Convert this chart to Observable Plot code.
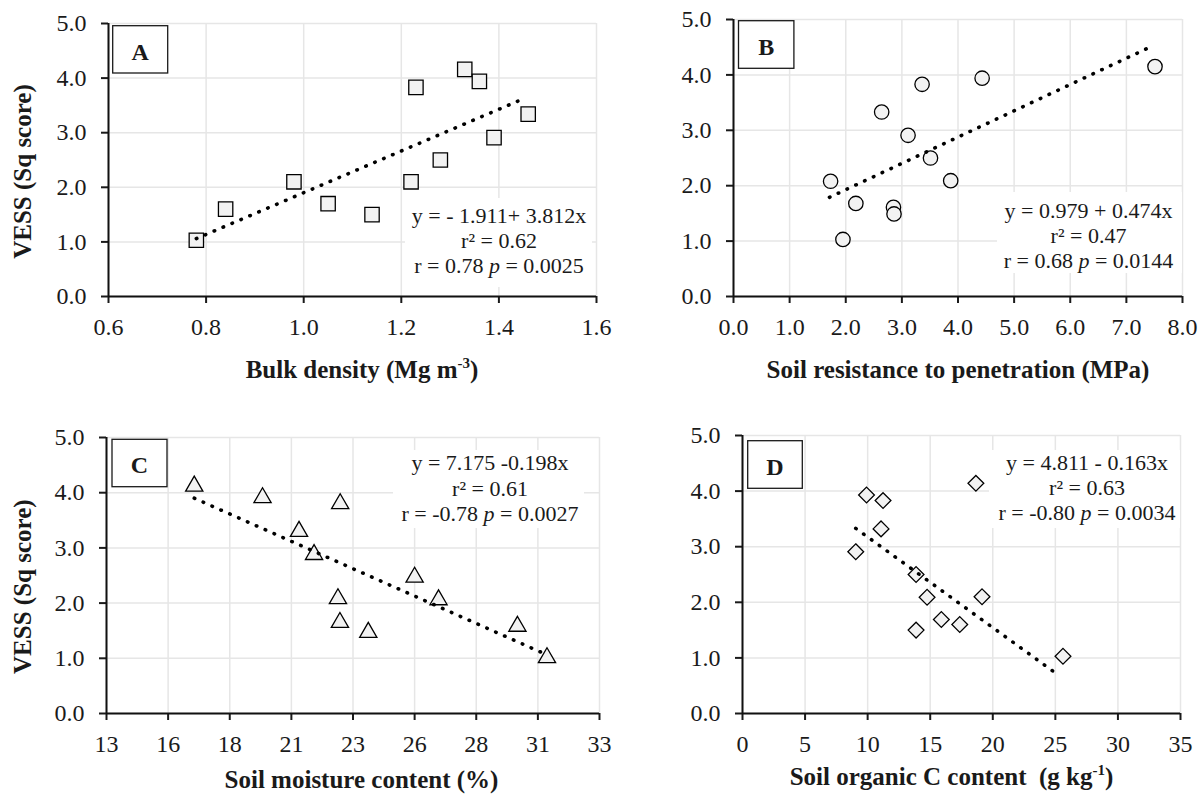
<!DOCTYPE html>
<html>
<head>
<meta charset="utf-8">
<script src="https://cdn.jsdelivr.net/npm/d3@7"></script>
<script src="https://cdn.jsdelivr.net/npm/@observablehq/plot@0.6"></script>
<style>
  html, body { margin: 0; padding: 0; background: #ffffff; }
  #root { position: relative; width: 1204px; height: 795px; overflow: hidden; background: #ffffff; }
  .panel { position: absolute; }
</style>
</head>
<body>
<div id="root"></div>
<script>
// ---------------- DATA ----------------
const yTicks = [0, 1, 2, 3, 4, 5];

// Panel A: bulk density vs VESS
const bulkDensity = [0.78, 0.84, 0.98, 1.05, 1.14, 1.22, 1.23, 1.28, 1.33, 1.36, 1.39, 1.46];
const vessA       = [1.03, 1.60, 2.10, 1.70, 1.50, 2.10, 3.83, 2.50, 4.16, 3.94, 2.91, 3.34];
const trendAx = [0.78, 1.45];
const trendAy = [1.06, 3.62];
const xTicksA = [0.6, 0.8, 1.0, 1.2, 1.4, 1.6];

// Panel B: soil resistance to penetration vs VESS
const penetration = [1.73, 1.95, 2.18, 2.64, 2.85, 2.86, 3.11, 3.36, 3.51, 3.87, 4.43, 7.51];
const vessB       = [2.08, 1.03, 1.68, 3.33, 1.61, 1.49, 2.91, 3.83, 2.50, 2.09, 3.94, 4.15];
const trendBx = [1.71, 7.44];
const trendBy = [1.79, 4.51];
const xTicksB = [0, 1, 2, 3, 4, 5, 6, 7, 8];

// Panel C: soil moisture vs VESS
const moisture = [16.56, 19.33, 20.81, 21.42, 22.39, 22.47, 22.48, 23.62, 25.50, 26.47, 29.67, 30.87];
const vessC    = [4.12, 3.91, 3.30, 2.88, 2.08, 1.65, 3.80, 1.47, 2.47, 2.06, 1.58, 1.01];
const trendCx = [16.56, 30.73];
const trendCy = [3.90, 1.09];
const xTicksC = [13, 15.5, 18, 20.5, 23, 25.5, 28, 30.5, 33];

// Panel D: soil organic C vs VESS
const organicC = [9.05, 9.91, 11.23, 11.07, 13.87, 13.87, 14.75, 15.89, 17.36, 18.65, 19.14, 25.61];
const vessD    = [2.91, 3.93, 3.83, 3.32, 2.50, 1.50, 2.09, 1.69, 1.60, 4.14, 2.10, 1.03];
const trendDx = [9.05, 25.25];
const trendDy = [3.33, 0.69];
const xTicksD = [0, 5, 10, 15, 20, 25, 30, 35];

// Texts
const yTitle = "VESS (Sq score)";
const letters = ["A", "B", "C", "D"];
const eqA = ["y = - 1.911+ 3.812x", "r² = 0.62", "r = 0.78 ", " = 0.0025"];
const eqB = ["y = 0.979 + 0.474x", "r² = 0.47", "r = 0.68 ", " = 0.0144"];
const eqC = ["y = 7.175 -0.198x", "r² = 0.61", "r = -0.78 ", " = 0.0027"];
const eqD = ["y = 4.811 - 0.163x", "r² = 0.63", "r = -0.80 ", " = 0.0034"];
const xTitleA = ["Bulk density (Mg m", "-3", ")"];
const xTitleB = ["Soil resistance to penetration (MPa)", "", ""];
const xTitleC = ["Soil moisture content (%)", "", ""];
const xTitleD = ["Soil organic C content \u00A0(g kg", "-1", ")"];

// ---------------- LAYOUT ----------------
const FONT = '"Liberation Serif", "Times New Roman", serif';
const panels = [
  { xs: bulkDensity, ys: vessA, tx: trendAx, ty: trendAy, ticks: xTicksA, domain: [0.6, 1.6],
    fmt: d => d.toFixed(1), symbol: "square", r: 8.1, letter: letters[0], eq: eqA, xTitle: xTitleA, yTitle: true,
    left: 0, top: 0, w: 602, h: 390, ml: 108, mr: 6, mt: 23, mb: 94,
    box: [112.7, 25.7, 55, 47.3], ann: [405, 198, 187, 89, 499, 223, 25], xt: [362, 378], yt: [31, 171.5] },
  { xs: penetration, ys: vessB, tx: trendBx, ty: trendBy, ticks: xTicksB, domain: [0, 8],
    fmt: d => d.toFixed(1), symbol: "circle", r: 7.2, letter: letters[1], eq: eqB, xTitle: xTitleB, yTitle: false,
    left: 602, top: 0, w: 602, h: 390, ml: 131, mr: 22, mt: 19, mb: 94,
    box: [136.5, 20.7, 55.4, 47.6], ann: [395, 192, 185, 81, 486.5, 218, 25], xt: [356, 378], yt: null },
  { xs: moisture, ys: vessC, tx: trendCx, ty: trendCy, ticks: xTicksC, domain: [13, 33],
    fmt: d => d.toFixed(0), symbol: "triangle", r: 6.4, letter: letters[2], eq: eqC, xTitle: xTitleC, yTitle: true,
    left: 0, top: 395, w: 602, h: 400, ml: 106, mr: 3, mt: 42, mb: 82,
    box: [112, 44.3, 55, 47.4], ann: [393, 55, 191, 78, 490, 75, 25.5], xt: [361.5, 393], yt: [31, 191.7] },
  { xs: organicC, ys: vessD, tx: trendDx, ty: trendDy, ticks: xTicksD, domain: [0, 35],
    fmt: d => d.toFixed(0), symbol: "diamond2", r: 7.1, letter: letters[3], eq: eqD, xTitle: xTitleD, yTitle: false,
    left: 602, top: 395, w: 602, h: 400, ml: 140, mr: 24, mt: 40, mb: 82,
    box: [145.7, 45.7, 54.6, 47.6], ann: [387, 55, 191, 78, 485, 75, 25], xt: [349.5, 390], yt: null }
];

const root = document.getElementById("root");

function makePanel(p) {
  const pts = p.xs.map((x, i) => ({ x, y: p.ys[i] }));
  const trend = p.tx.map((x, i) => ({ x, y: p.ty[i] }));
  const chart = Plot.plot({
    width: p.w, height: p.h,
    marginLeft: p.ml, marginRight: p.mr, marginTop: p.mt, marginBottom: p.mb,
    style: { background: "transparent", overflow: "visible", maxWidth: "none",
             fontFamily: FONT, fontSize: "24px", color: "#1a1a1a" },
    x: { domain: p.domain },
    y: { domain: [0, 5] },
    marks: [
      Plot.gridX(p.ticks, { stroke: "#e6e6e6", strokeOpacity: 1, strokeWidth: 1.5 }),
      Plot.gridY(yTicks, { stroke: "#e6e6e6", strokeOpacity: 1, strokeWidth: 1.5 }),
      Plot.axisX(p.ticks, { tickFormat: p.fmt, tickSize: 7, tickPadding: 14, label: null, strokeWidth: 2, fontSize: 24 }),
      Plot.axisY(yTicks, { tickFormat: d => d.toFixed(1), tickSize: 7, tickPadding: 15, label: null, strokeWidth: 2, fontSize: 24 }),
      Plot.ruleY([0], { stroke: "#111", strokeWidth: 2 }),
      Plot.ruleX([p.domain[0]], { stroke: "#111", strokeWidth: 2 }),
      Plot.dot(pts, { x: "x", y: "y", symbol: p.symbol, r: p.r, fill: "#f2f2f2",
                      stroke: "#000", strokeWidth: 1.3 }),
      Plot.line(trend, { x: "x", y: "y", stroke: "#000", strokeOpacity: 1, strokeWidth: 3.6,
                         strokeDasharray: "0.5 9.2", strokeLinecap: "round" })
    ]
  });

  const svg = d3.select(chart);
  // place the annotation group just before the dot / line marks so those stay on top
  const dotGroup = svg.select('g[aria-label="dot"]').node();
  const g = d3.select(chart.insertBefore(document.createElementNS("http://www.w3.org/2000/svg", "g"), dotGroup))
    .attr("font-family", FONT).attr("fill", "#1a1a1a");

  // equation box
  const [ax, ay, aw, ah, acx, ab, alh] = p.ann;
  g.append("rect").attr("x", ax).attr("y", ay).attr("width", aw).attr("height", ah).attr("fill", "#ffffff");
  g.append("text").attr("x", acx).attr("y", ab).attr("text-anchor", "middle").attr("font-size", 22).text(p.eq[0]);
  g.append("text").attr("x", acx).attr("y", ab + alh).attr("text-anchor", "middle").attr("font-size", 22).text(p.eq[1]);
  const t3 = g.append("text").attr("x", acx).attr("y", ab + 2 * alh).attr("text-anchor", "middle").attr("font-size", 22);
  t3.append("tspan").text(p.eq[2]);
  t3.append("tspan").attr("font-style", "italic").text("p");
  t3.append("tspan").text(p.eq[3]);

  // letter box
  const [bx, by, bw, bh] = p.box;
  g.append("rect").attr("x", bx).attr("y", by).attr("width", bw).attr("height", bh)
    .attr("fill", "#ffffff").attr("stroke", "#1a1a1a").attr("stroke-width", 1.3);
  g.append("text").attr("x", bx + bw / 2).attr("y", by + 34).attr("text-anchor", "middle")
    .attr("font-size", 24).attr("font-weight", "bold").text(p.letter);

  // x title
  const xt = g.append("text").attr("x", p.xt[0]).attr("y", p.xt[1]).attr("text-anchor", "middle")
    .attr("font-size", 25).attr("font-weight", "bold");
  xt.append("tspan").text(p.xTitle[0]);
  if (p.xTitle[1]) {
    xt.append("tspan").attr("font-size", 15).attr("dy", -10).text(p.xTitle[1]);
    xt.append("tspan").attr("dy", 10).text(p.xTitle[2]);
  }

  // y title
  if (p.yt) {
    g.append("text").attr("transform", `translate(${p.yt[0]},${p.yt[1]}) rotate(-90)`)
      .attr("text-anchor", "middle").attr("font-size", 25).attr("font-weight", "bold").text(yTitle);
  }

  const div = document.createElement("div");
  div.className = "panel";
  div.style.left = p.left + "px";
  div.style.top = p.top + "px";
  div.style.width = p.w + "px";
  div.style.height = p.h + "px";
  div.appendChild(chart);
  root.appendChild(div);
}

panels.forEach(makePanel);
</script>
</body>
</html>
